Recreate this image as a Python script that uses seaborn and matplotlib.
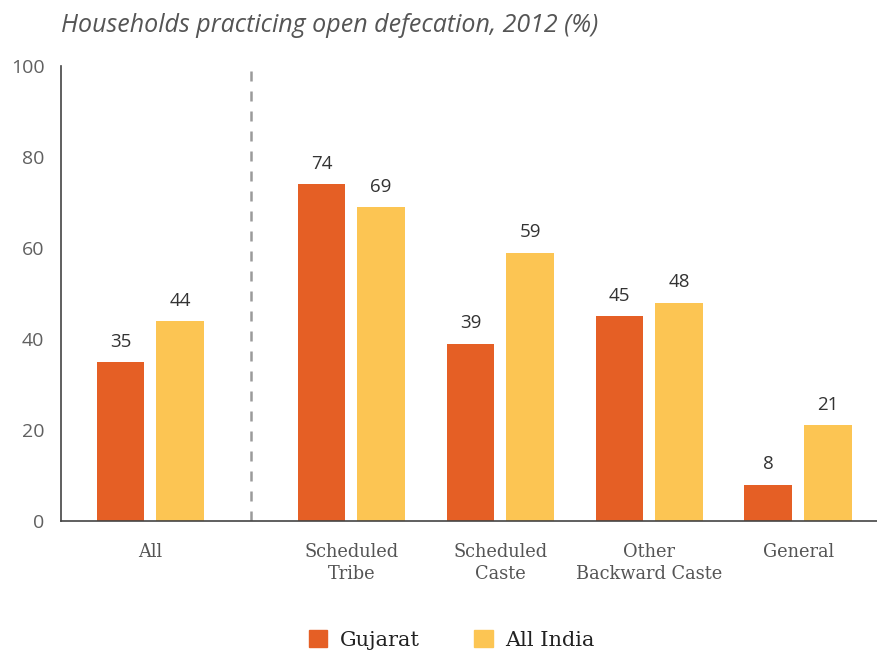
import pandas as pd
import seaborn as sns
import matplotlib.pyplot as plt
from matplotlib.patches import Patch

# Données
categories = ["All", "Scheduled\nTribe", "Scheduled\nCaste", "Other\nBackward Caste", "General"]
positions = [0, 1.35, 2.35, 3.35, 4.35]
gujarat = [35, 74, 39, 45, 8]
all_india = [44, 69, 59, 48, 21]
series = ["Gujarat", "All India"]
colors = {"Gujarat": "#E55F25", "All India": "#FCC553"}

df = pd.DataFrame({
    "pos": positions * 2,
    "value": gujarat + all_india,
    "region": ["Gujarat"] * len(gujarat) + ["All India"] * len(all_india),
})

sns.set_style("white")
plt.rcParams['font.family'] = ['Open Sans', 'DejaVu Sans']

fig = plt.figure(figsize=(8.77, 6.52), dpi=100)
ax = fig.add_axes([61 / 877, 1 - 521 / 652, 1 - 61 / 877, (521 - 66) / 652])

sns.barplot(data=df, x="pos", y="value", hue="region", hue_order=series,
            palette=colors, native_scale=True, width=0.8, gap=0.2,
            saturation=1, legend=False, linewidth=0, ax=ax)

for cont in ax.containers:
    ax.bar_label(cont, padding=8, fontsize=13.5, color="#333333")

# ligne pointillée entre "All" et les castes
sep = (positions[0] + positions[1]) / 2
ax.plot([sep, sep], [0, 100], ls=(0, (4, 4)), color="#9a9a9a", lw=1.8)

ax.set_xlim(-0.6, 4.88)
ax.set_ylim(0, 100)
ax.set_yticks(range(0, 101, 20))
ax.set_xticks(positions)
ax.set_xticklabels(categories, family="DejaVu Serif", fontsize=12.8, color="#555555",
                   linespacing=1.3)
ax.tick_params(axis="y", labelsize=14, labelcolor="#606060", length=0, pad=12)
ax.tick_params(axis="x", length=0, pad=16)
ax.set_xlabel("")
ax.set_ylabel("")
sns.despine(ax=ax, top=True, right=True)
ax.spines["left"].set_color("#444444")
ax.spines["bottom"].set_color("#444444")
ax.spines["left"].set_linewidth(1.2)
ax.spines["bottom"].set_linewidth(1.2)

fig.text(61 / 877, 1 - 25 / 652, "Households practicing open defecation, 2012 (%)",
         fontsize=18, style="italic", color="#555555", va="center", ha="left")

handles = [Patch(color=colors[s], label=s) for s in series]
fig.legend(handles=handles, loc="center", bbox_to_anchor=(0.515, 12 / 652), ncol=2,
           frameon=False, prop={"family": "DejaVu Serif", "size": 15},
           labelcolor="#222222",
           handlelength=0.9, handleheight=0.9, handletextpad=0.6, columnspacing=2.6)

fig.savefig("out.png", dpi=100)
